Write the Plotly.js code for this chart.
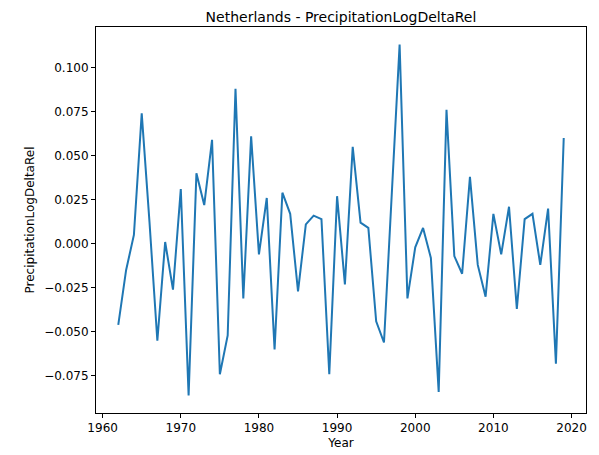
<!DOCTYPE html>
<html>
<head>
<script src="https://cdn.plot.ly/plotly-3.0.1.min.js"></script>
<style>body{margin:0}</style>
</head>
<body>
<div id="chart" style="width:599px;height:455px"></div>
<script>
var years = [];
for (var y = 1962; y <= 2019; y++) years.push(y);
var values = [-0.046, -0.015, 0.005, 0.074, 0.012, -0.055, 0.001, -0.026, 0.031, -0.086,
  0.040, 0.022, 0.059, -0.074, -0.052, 0.088, -0.031, 0.061, -0.006, 0.026,
  -0.060, 0.029, 0.017, -0.027, 0.011, 0.016, 0.014, -0.074, 0.027, -0.023,
  0.055, 0.012, 0.009, -0.044, -0.056, 0.030, 0.113, -0.031, -0.002, 0.009,
  -0.008, -0.084, 0.076, -0.007, -0.017, 0.038, -0.012, -0.030, 0.017, -0.006,
  0.021, -0.037, 0.014, 0.017, -0.012, 0.020, -0.068, 0.060];

var trace = [{x: years, y: values, type: 'scatter', mode: 'lines', line: {color: '#1f77b4', width: 2}}];
var axisStyle = {showgrid: false, zeroline: false, showline: true, mirror: true, linecolor: 'black', linewidth: 1,
  ticks: 'outside', ticklen: 4, tickcolor: 'black', tickfont: {size: 12, color: 'black'}};
var layout = {
  width: 599, height: 455,
  margin: {l: 96, r: 13, t: 27, b: 42},
  font: {family: 'DejaVu Sans', color: 'black'},
  title: {text: 'Netherlands - PrecipitationLogDeltaRel', font: {size: 14}, x: 0.5, xref: 'paper',
    yref: 'container', y: 0.962, yanchor: 'middle'},
  xaxis: Object.assign({}, axisStyle, {range: [1959.15, 2021.85], tickvals: [1960, 1970, 1980, 1990, 2000, 2010, 2020],
    title: {text: 'Year', font: {size: 12}, standoff: 4}}),
  yaxis: Object.assign({}, axisStyle, {range: [-0.096, 0.123], tickvals: [-0.075, -0.05, -0.025, 0, 0.025, 0.05, 0.075, 0.1],
    tickformat: '.3f', title: {text: 'PrecipitationLogDeltaRel', font: {size: 12}, standoff: 6}}),
  paper_bgcolor: 'white', plot_bgcolor: 'white', showlegend: false
};
Plotly.newPlot('chart', trace, layout, {displayModeBar: false, responsive: false});
</script>
</body>
</html>
